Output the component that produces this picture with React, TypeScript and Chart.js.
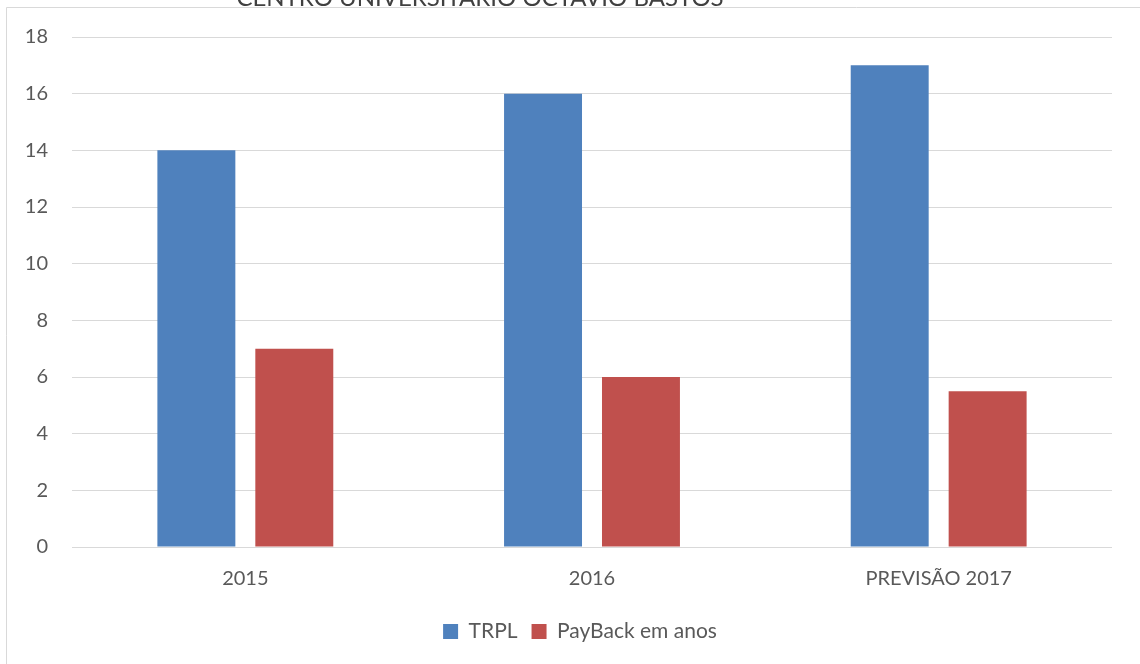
import React, { useEffect, useRef } from "react";
import { Chart, registerables } from "chart.js";

Chart.register(...registerables);

const titleText = "CENTRO UNIVERSITÁRIO OCTÁVIO BASTOS";
const categories = ["2015", "2016", "PREVISÃO 2017"];
const seriesNames = ["TRPL", "PayBack em anos"];
const trplValues = [14, 16, 17];
const paybackValues = [7, 6, 5.5];
const seriesColors = ["#4F81BD", "#C0504D"];

const FONT = "Lato, 'Open Sans', sans-serif";

const framePlugin = {
  id: "frameAndTitle",
  afterLayout(chart: any) {
    const lg = chart.legend;
    if (lg) {
      lg.left += 24;
      lg.right += 24;
    }
  },
  beforeDraw(chart: any) {
    const ctx = chart.ctx;
    ctx.save();
    ctx.fillStyle = "#ffffff";
    ctx.fillRect(0, 0, chart.width, chart.height);
    ctx.strokeStyle = "#D9D9D9";
    ctx.lineWidth = 1;
    ctx.beginPath();
    ctx.moveTo(6.5, chart.height);
    ctx.lineTo(6.5, 7.5);
    ctx.lineTo(chart.width, 7.5);
    ctx.stroke();
    ctx.fillStyle = "#404040";
    ctx.font = `24px ${FONT}`;
    ctx.textAlign = "center";
    ctx.textBaseline = "alphabetic";
    ctx.fillText(titleText, 480, 5.5);
    ctx.restore();
  },
};

export default function App() {
  const canvasRef = useRef<HTMLCanvasElement | null>(null);

  useEffect(() => {
    if (!canvasRef.current) return;
    const chart = new Chart(canvasRef.current, {
      type: "bar",
      data: {
        labels: categories,
        datasets: [
          {
            label: seriesNames[0],
            data: trplValues,
            backgroundColor: seriesColors[0],
          },
          {
            label: seriesNames[1],
            data: paybackValues,
            backgroundColor: seriesColors[1],
          },
        ],
      },
      options: {
        animation: false,
        responsive: false,
        maintainAspectRatio: false,
        devicePixelRatio: 1,
        datasets: {
          bar: {
            categoryPercentage: 0.565,
            barPercentage: 0.796,
          },
        },
        layout: {
          padding: { left: 0, right: 28, top: 37, bottom: 12 },
        },
        plugins: {
          title: { display: false },
          tooltip: { enabled: false },
          legend: {
            display: true,
            position: "bottom",
            labels: {
              boxWidth: 15,
              boxHeight: 15,
              padding: 14,
              color: "#595959",
              font: { family: FONT, size: 21 },
            },
          },
        },
        scales: {
          x: {
            grid: { display: false, drawTicks: false },
            border: { display: false },
            ticks: {
              color: "#595959",
              padding: 20,
              font: { family: FONT, size: 20 },
              maxRotation: 0,
            },
            afterFit(scale: any) {
              scale.height = 60;
            },
          },
          y: {
            min: 0,
            max: 18,
            grid: { color: "#D9D9D9", lineWidth: 1, drawTicks: false },
            border: { display: false },
            ticks: {
              stepSize: 2,
              color: "#595959",
              padding: 24,
              font: { family: FONT, size: 20 },
            },
            afterFit(scale: any) {
              scale.width = 72;
            },
          },
        },
      },
      plugins: [framePlugin],
    });
    return () => chart.destroy();
  }, []);

  return (
    <div style={{ position: "absolute", left: 0, top: 0, width: 1140, height: 664 }}>
      <canvas ref={canvasRef} width={1140} height={664} style={{ display: "block" }} />
    </div>
  );
}
